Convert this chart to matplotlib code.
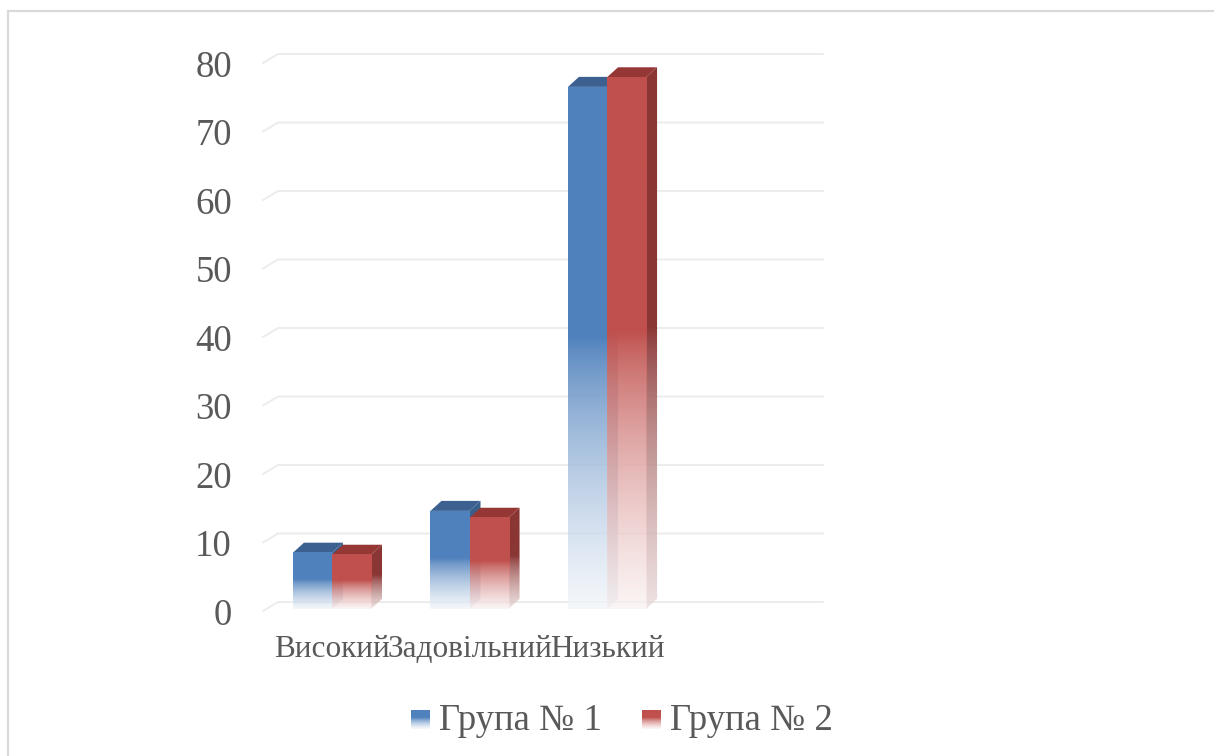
import numpy as np
import matplotlib
matplotlib.use('Agg')
import matplotlib.pyplot as plt
from matplotlib.patches import Polygon, Rectangle
from matplotlib.colors import to_rgb

plt.rcParams['font.family'] = ['Liberation Serif', 'DejaVu Serif']

categories = ['Високий', 'Задовільний', 'Низький']
series_names = ['Група № 1', 'Група № 2']
group1 = [8.2, 14.3, 76.2]
group2 = [7.9, 13.3, 77.6]
yticks = [0, 10, 20, 30, 40, 50, 60, 70, 80]

front_colors = ['#4f81bd', '#c0504d']
side_colors = ['#3a5f8c', '#8a3634']
top_colors = ['#3c6191', '#953735']
text_color = '#595959'
grid_color = '#ebebeb'

W, H = 1214, 756
fig = plt.figure(figsize=(W / 100, H / 100), dpi=100)

# frame around the chart area
fig.patches.append(Rectangle((8 / W, -0.1), 1.2, 1 - 11 / H + 0.1, transform=fig.transFigure,
                             fill=False, edgecolor='#d9d9d9', linewidth=1.6, zorder=0))

# axes box in pixels, chosen so the back wall matches the reference
px_l, px_r, px_t, px_b = 250, 840, 40, 620
ax = fig.add_axes([px_l / W, 1 - px_b / H, (px_r - px_l) / W, (px_b - px_t) / H])
y0_px, unit_px = 602, 6.85      # y=0 pixel row, pixels per unit
x0_px, slot_px = 332, 137.5     # first category centre, category spacing
xlim = ((px_l - x0_px) / slot_px, (px_r - x0_px) / slot_px)
ylim = ((y0_px - px_b) / unit_px, (y0_px - px_t) / unit_px)

bar_w = 0.284
dx, dy = 0.08, 1.46   # depth offset of 3d bars
base = -1.0           # front face bottom


def gradient(color, n=200, solid=0.48, light=0.92):
    r, g, b = to_rgb(color)
    t = np.linspace(0, 1, n)
    f = np.clip((t - solid) / (1 - solid), 0, 1) ** 0.85 * light
    img = np.zeros((n, 1, 4))
    img[:, 0, 0] = r + (1 - r) * f
    img[:, 0, 1] = g + (1 - g) * f
    img[:, 0, 2] = b + (1 - b) * f
    img[:, 0, 3] = 1 - 0.35 * f
    return img


# back wall gridlines with a little perspective slant at the left
gx0, gx1 = (263 - x0_px) / slot_px, (823 - x0_px) / slot_px
sl_dx, sl_dy = 15 / slot_px, 9 / unit_px
for yv in yticks:
    ax.plot([gx0, gx0 + sl_dx, gx1], [yv - sl_dy, yv, yv], color=grid_color, lw=1.3, zorder=1)

for s, vals in enumerate([group1, group2]):
    for i, v in enumerate(vals):
        xl = i - bar_w + s * bar_w
        xr = xl + bar_w
        top = base + v
        # side face
        side = Polygon([(xr, base), (xr, top), (xr + dx, top + dy), (xr + dx, base + dy)],
                       closed=True, facecolor='none', edgecolor='none')
        ax.add_patch(side)
        im = ax.imshow(gradient(side_colors[s], light=0.8), extent=(xr, xr + dx, base, top + dy),
                       aspect='auto', interpolation='bilinear', zorder=2 + s)
        im.set_clip_path(side)
        # top face
        ax.add_patch(Polygon([(xl, top), (xr, top), (xr + dx, top + dy), (xl + dx, top + dy)],
                             closed=True, facecolor=top_colors[s], edgecolor='none', zorder=2 + s))
        # front face
        ax.imshow(gradient(front_colors[s]), extent=(xl, xr, base, top),
                  aspect='auto', interpolation='bilinear', zorder=2 + s)

ax.set_xlim(xlim)
ax.set_ylim(ylim)
ax.set_yticks(np.array(yticks) - 1.4, [str(v) for v in yticks])
ax.set_xticks(range(len(categories)), categories)
ax.tick_params(axis='y', length=0, pad=13, labelsize=26.5, labelcolor=text_color)
ax.tick_params(axis='x', length=0, pad=11, labelsize=22.5, labelcolor=text_color)
for sp in ax.spines.values():
    sp.set_visible(False)
ax.patch.set_alpha(0)

# legend drawn by hand: gradient squares plus labels
leg_x = [411, 642]
leg_y = 719
for s, name in enumerate(series_names):
    lax = fig.add_axes([leg_x[s] / W, 1 - (leg_y + 10) / H, 19 / W, 19 / H])
    lax.imshow(gradient(front_colors[s], solid=0.4, light=0.95), aspect='auto', interpolation='bilinear')
    lax.axis('off')
    fig.text((leg_x[s] + 28) / W, 1 - (leg_y + 2) / H, name, fontsize=26.5, color=text_color,
             ha='left', va='center')

fig.savefig('out.png', dpi=100)
